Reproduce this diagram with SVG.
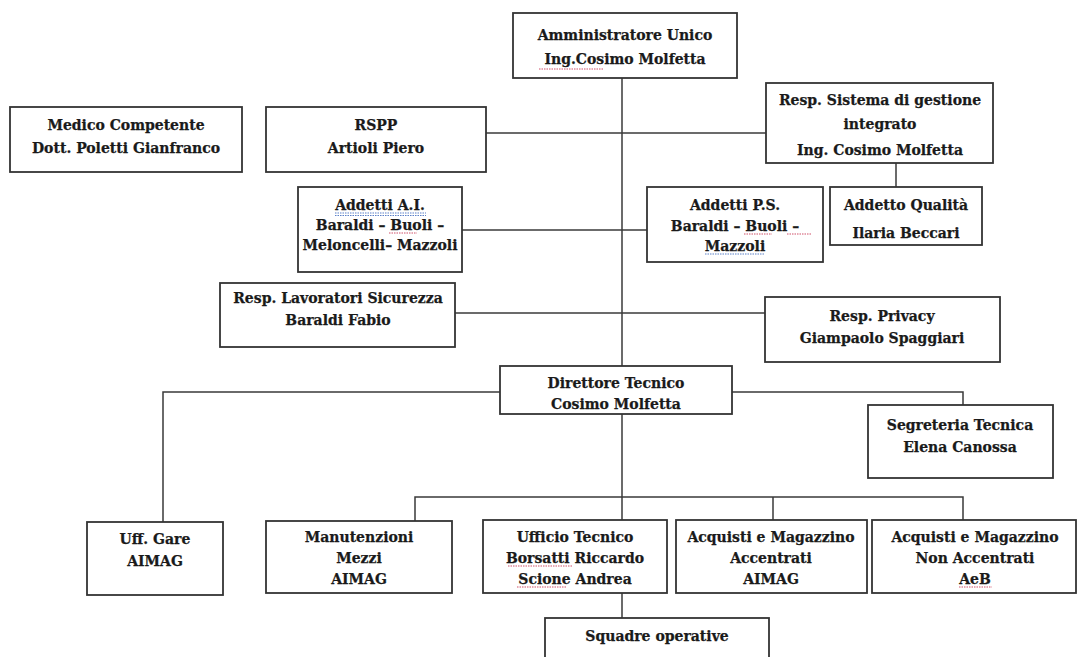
<svg xmlns="http://www.w3.org/2000/svg" width="1078" height="657" viewBox="0 0 1078 657">
<style>
.box{fill:#fff;stroke:#333;stroke-width:1.8}
.ln{fill:none;stroke:#3a3a3a;stroke-width:1.5}
text{font-family:"DejaVu Serif","Liberation Serif",serif;font-weight:bold;font-size:14px;fill:#1a1a1a;stroke:#1a1a1a;stroke-width:0.25;text-anchor:middle}
.sq{fill:none;stroke-width:1.2;stroke-dasharray:1.5 1}
.r{stroke:#d0506a}
.b{stroke:#5a80c8}
</style>
<rect width="1078" height="657" fill="#fff"/>
<g id="connectors">
<path class="ln" d="M622 78V367"/>
<path class="ln" d="M486 133H766"/>
<path class="ln" d="M896 163V187"/>
<path class="ln" d="M462 230H647"/>
<path class="ln" d="M455 313H765"/>
<path class="ln" d="M163 522V392H963V405"/>
<path class="ln" d="M622 414V497"/>
<path class="ln" d="M415 521V497H963V520"/>
<path class="ln" d="M622 497V520"/>
<path class="ln" d="M773 497V520"/>
<path class="ln" d="M622 593V618"/>
</g>
<g id="amministratore">
<rect class="box" x="513" y="13" width="224" height="65"/>
<text x="625" y="40">Amministratore Unico</text>
<text x="625" y="64">Ing.Cosimo Molfetta</text>
<path class="sq r" d="M539 69H603"/>
</g>
<g id="medico">
<rect class="box" x="10" y="107" width="232" height="65"/>
<text x="126" y="130">Medico Competente</text>
<text x="126" y="153">Dott. Poletti Gianfranco</text>
</g>
<g id="rspp">
<rect class="box" x="266" y="107" width="220" height="65"/>
<text x="376" y="130">RSPP</text>
<text x="376" y="153">Artioli Piero</text>
</g>
<g id="resp-sistema">
<rect class="box" x="766" y="83" width="227" height="80"/>
<text x="880" y="105">Resp. Sistema di gestione</text>
<text x="880" y="129">integrato</text>
<text x="880" y="155">Ing. Cosimo Molfetta</text>
</g>
<g id="addetto-qualita">
<rect class="box" x="830" y="187" width="152" height="58"/>
<text x="906" y="210">Addetto Qualità</text>
<text x="906" y="238">Ilaria Beccari</text>
</g>
<g id="addetti-ai">
<rect class="box" x="298" y="187" width="164" height="85"/>
<text x="380" y="210">Addetti  A.I.</text>
<text x="380" y="230">Baraldi – Buoli –</text>
<text x="380" y="250">Meloncelli– Mazzoli</text>
<path class="sq b" d="M335 213H426M335 215.5H426"/>
<path class="sq r" d="M389 233H417"/>
</g>
<g id="addetti-ps">
<rect class="box" x="647" y="187" width="176" height="75"/>
<text x="735" y="210">Addetti P.S.</text>
<text x="735" y="231">Baraldi – Buoli –</text>
<text x="735" y="251">Mazzoli</text>
<path class="sq r" d="M744 234H772M787 234H811"/>
<path class="sq b" d="M705 254H765"/>
</g>
<g id="resp-lavoratori">
<rect class="box" x="220" y="283" width="235" height="64"/>
<text x="338" y="303">Resp. Lavoratori Sicurezza</text>
<text x="338" y="325">Baraldi Fabio</text>
</g>
<g id="resp-privacy">
<rect class="box" x="765" y="297" width="235" height="65"/>
<text x="882" y="321">Resp. Privacy</text>
<text x="882" y="343">Giampaolo Spaggiari</text>
</g>
<g id="direttore">
<rect class="box" x="500" y="366" width="232" height="48"/>
<text x="616" y="388">Direttore Tecnico</text>
<text x="616" y="409">Cosimo Molfetta</text>
</g>
<g id="segreteria">
<rect class="box" x="868" y="405" width="185" height="73"/>
<text x="960" y="430">Segreteria Tecnica</text>
<text x="960" y="452">Elena Canossa</text>
</g>
<g id="uff-gare">
<rect class="box" x="87" y="522" width="136" height="73"/>
<text x="155" y="544">Uff. Gare</text>
<text x="155" y="566">AIMAG</text>
</g>
<g id="manutenzioni">
<rect class="box" x="266" y="521" width="186" height="72"/>
<text x="359" y="542">Manutenzioni</text>
<text x="359" y="563">Mezzi</text>
<text x="359" y="584">AIMAG</text>
</g>
<g id="ufficio-tecnico">
<rect class="box" x="483" y="520" width="184" height="73"/>
<text x="575" y="542">Ufficio Tecnico</text>
<text x="575" y="563">Borsatti Riccardo</text>
<text x="575" y="584">Scione Andrea</text>
<path class="sq r" d="M508 566H572M517 587H566"/>
</g>
<g id="acquisti-accentrati">
<rect class="box" x="676" y="520" width="191" height="73"/>
<text x="771" y="542">Acquisti e Magazzino</text>
<text x="771" y="563">Accentrati</text>
<text x="771" y="584">AIMAG</text>
</g>
<g id="acquisti-non-accentrati">
<rect class="box" x="872" y="520" width="204" height="73"/>
<text x="975" y="542">Acquisti e Magazzino</text>
<text x="975" y="563">Non Accentrati</text>
<text x="975" y="584">AeB</text>
<path class="sq r" d="M959 587H992"/>
</g>
<g id="squadre">
<rect class="box" x="545" y="618" width="224" height="50"/>
<text x="657" y="641">Squadre operative</text>
</g>
</svg>
